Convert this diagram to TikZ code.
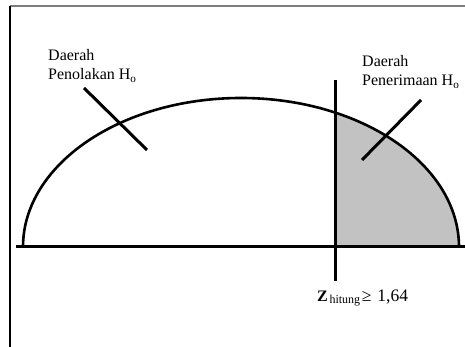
\documentclass[tikz,border=0pt]{standalone}
\usepackage{fontspec}
\setmainfont{Liberation Serif}
\usetikzlibrary{positioning}
\definecolor{framegray}{RGB}{125,125,125}
\definecolor{acceptgray}{RGB}{194,194,194}

\begin{document}
\begin{tikzpicture}[x=1pt, y=1pt,
  regiontext/.style={anchor=north west, inner sep=0pt, align=left, font=\fontsize{16}{19.5}\selectfont},
  curveline/.style={line width=2.6pt},
  pointer/.style={line width=3pt}]
\useasboundingbox (0,0) rectangle (465,347);
% frame
\draw[framegray, line width=1.4pt] (10,341) -- (470,341);
\draw[black, line width=1.4pt] (10,341) -- (10,-5);
% accepted area and curve
\fill[acceptgray] (241,100) ++(64.45:218 and 149) arc[start angle=64.45, end angle=0, x radius=218, y radius=149] -- (335,100) -- cycle;
\draw[curveline] (23,100) arc[start angle=180, end angle=0, x radius=218, y radius=149];
\draw[pointer] (16,100) -- (470,100);
\draw[pointer] (335,267) -- (335,66);
% labels
\node[regiontext] (tolak) at (48,298) {Daerah\\Penolakan H\textsubscript{o}};
\node[regiontext] (terima) at (362,292) {Daerah\\Penerimaan H\textsubscript{o}};
\node[anchor=base west, inner sep=0pt] (zhit) at (317,45) {{\fontsize{16}{16}\selectfont\textbf{Z}}\,\raisebox{-1.5pt}{\fontsize{12}{12}\selectfont hitung}\,{\fontsize{17.5}{17.5}\selectfont ≥\hspace{6pt}1,64}};
\coordinate (tolakA) at (84,259);
\coordinate (tolakB) at (147,197);
\coordinate (terimaA) at (421,247);
\coordinate (terimaB) at (362,187);
\draw[pointer] (tolakA) -- (tolakB);
\draw[pointer] (terimaA) -- (terimaB);
\end{tikzpicture}
\end{document}
